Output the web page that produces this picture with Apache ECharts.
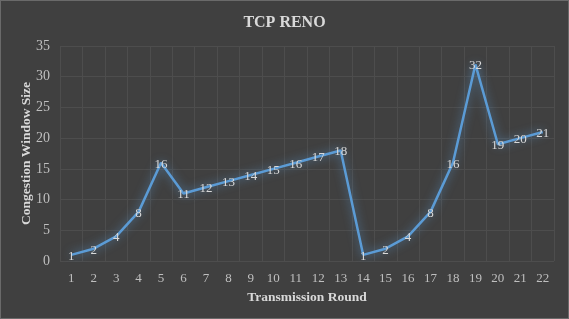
<!DOCTYPE html>
<html><head><meta charset="utf-8">
<script src="https://cdn.jsdelivr.net/npm/echarts@6/dist/echarts.min.js"></script>
<style>html,body{margin:0;padding:0;background:#404040;}#c{width:569px;height:319px;box-sizing:border-box;border:1px solid #6a6a6a;}</style>
</head><body><div id="c"></div>
<script>
const title = 'TCP RENO';
const categories = ['1','2','3','4','5','6','7','8','9','10','11','12','13','14','15','16','17','18','19','20','21','22'];
const cwnd = [1,2,4,8,16,11,12,13,14,15,16,17,18,1,2,4,8,16,32,19,20,21];
const yTicks = {min:0, max:35, interval:5};
const xName = 'Transmission Round';
const yName = 'Congestion Window Size';
const font = '"Liberation Serif", "Times New Roman", serif';
const chart = echarts.init(document.getElementById('c'));
chart.setOption({
  backgroundColor:'#404040',
  animation:false,
  title:{text:title,left:'center',top:9,textStyle:{color:'#d9d9d9',fontFamily:font,fontWeight:'bold',fontSize:16}},
  grid:{left:59,right:14,top:45,bottom:57},
  xAxis:{type:'category',data:categories,boundaryGap:true,
    name:xName,nameLocation:'middle',nameGap:30,
    nameTextStyle:{color:'#d9d9d9',fontFamily:font,fontWeight:'bold',fontSize:13.5},
    axisLine:{show:false},axisTick:{show:false},
    axisLabel:{color:'#bfbfbf',fontFamily:font,fontSize:13,margin:11},
    splitLine:{show:true,interval:0,lineStyle:{color:'#4d4d4d',width:1}}},
  yAxis:{type:'value',min:yTicks.min,max:yTicks.max,interval:yTicks.interval,
    name:yName,nameLocation:'middle',nameGap:26,nameMoveOverlap:false,
    nameTextStyle:{color:'#d9d9d9',fontFamily:font,fontWeight:'bold',fontSize:13.5},
    axisLine:{show:false},axisTick:{show:false},
    axisLabel:{color:'#bfbfbf',fontFamily:font,fontSize:14,margin:10},
    splitLine:{lineStyle:{color:'#4d4d4d',width:1}}},
  series:[{type:'line',data:cwnd,symbol:'circle',symbolSize:2,showSymbol:true,
    itemStyle:{color:'rgba(0,0,0,0)',borderWidth:0},
    lineStyle:{color:'#5b9bd5',width:2.5,shadowColor:'rgba(91,155,213,0.75)',shadowBlur:10},
    label:{show:true,position:'top',distance:0,offset:[0,9],color:'#d9d9d9',fontFamily:font,fontSize:13}}]
});
</script></body></html>
